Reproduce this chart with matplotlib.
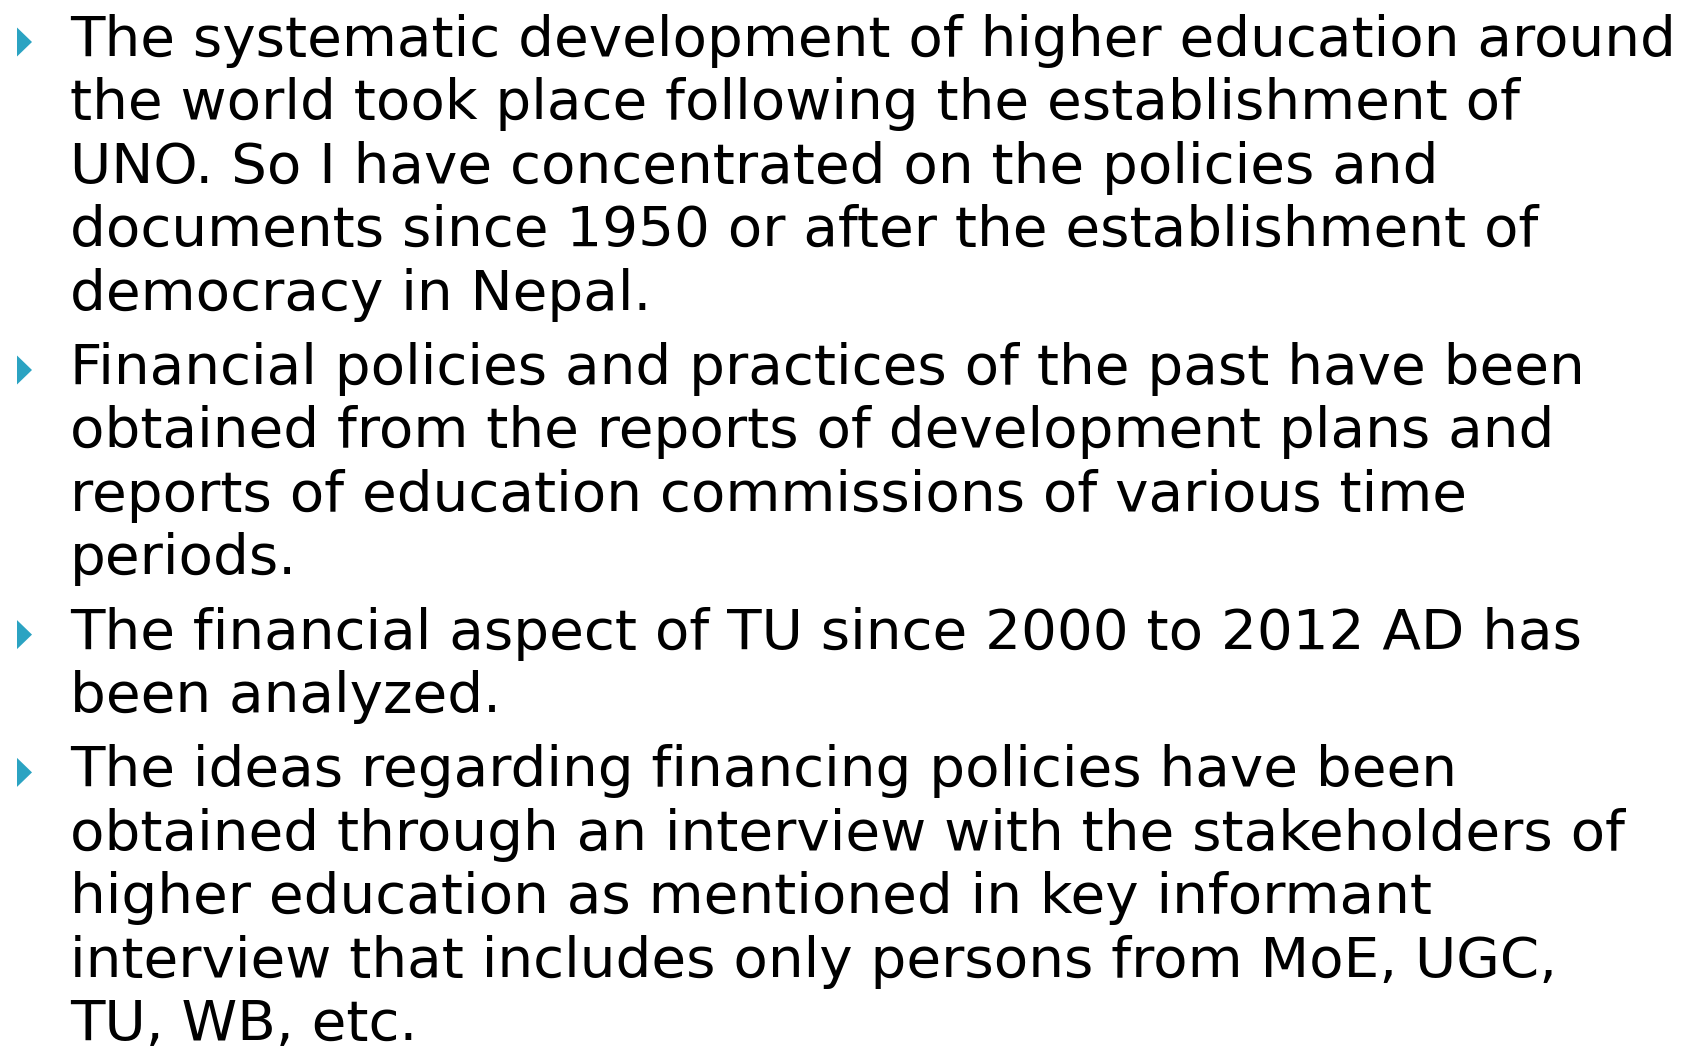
import matplotlib
matplotlib.use("Agg")
import matplotlib.pyplot as plt
from matplotlib.patches import Polygon

# Texto dos quatro topicos, uma lista por topico (cada item e uma linha)
bullet_1 = ["The systematic development of higher education around",
            "the world took place following the establishment of",
            "UNO. So I have concentrated on the policies and",
            "documents since 1950 or after the establishment of",
            "democracy in Nepal."]
bullet_2 = ["Financial policies and practices of the past have been",
            "obtained from the reports of development plans and",
            "reports of education commissions of various time",
            "periods."]
bullet_3 = ["The financial aspect of TU since 2000 to 2012 AD has",
            "been analyzed."]
bullet_4 = ["The ideas regarding financing policies have been",
            "obtained through an interview with the stakeholders of",
            "higher education as mentioned in key informant",
            "interview that includes only persons from MoE, UGC,",
            "TU, WB, etc."]
bullets = [bullet_1, bullet_2, bullet_3, bullet_4]

W, H = 1692, 1047
fig = plt.figure(figsize=(W / 100, H / 100), dpi=100)
ax = fig.add_axes([0, 0, 1, 1])
ax.set_xlim(0, W)
ax.set_ylim(H, 0)
ax.axis("off")

# Ajusta o tamanho da fonte para a linha mais longa ocupar ~1603 px
probe = ax.text(0, 0, bullet_1[0], fontsize=40, family="DejaVu Sans")
fig.canvas.draw()
w = probe.get_window_extent().width
probe.remove()
size = 40 * 1603 / w

bullet_color = "#2ba3c2"
x_text = 70
y = 56
line_step = 63.4
para_gap = 11

for lines in bullets:
    # seta triangular alinhada com a primeira linha
    yc = y - 14
    ax.add_patch(Polygon([[17, yc - 14.5], [32, yc], [17, yc + 14.5]],
                         closed=True, color=bullet_color, lw=0))
    for line in lines:
        ax.text(x_text, y, line, fontsize=size, family="DejaVu Sans",
                color="black", va="baseline", ha="left")
        y += line_step
    y += para_gap

fig.savefig("out.png", dpi=100)
